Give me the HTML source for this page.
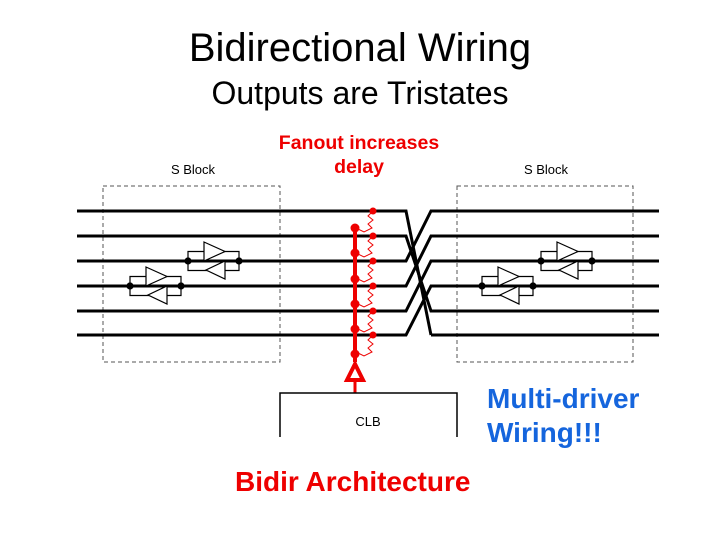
<!DOCTYPE html>
<html><head><style>
body{margin:0;width:720px;height:540px;background:#fff;position:relative;overflow:hidden;font-family:"Liberation Sans",sans-serif}
.t{position:absolute;white-space:nowrap}
</style></head><body>
<div class="t" style="left:0;width:720px;text-align:center;top:26px;font-size:40px">Bidirectional Wiring</div>
<div class="t" style="left:0;width:720px;text-align:center;top:75px;font-size:32px">Outputs are Tristates</div>
<div class="t" style="left:259px;width:200px;text-align:center;top:131px;font-size:19.5px;font-weight:bold;color:#e00;line-height:24px">Fanout increases<br>delay</div>
<div class="t" style="left:487px;top:382px;font-size:28px;font-weight:bold;color:#1565dd;line-height:34px">Multi-driver<br>Wiring!!!</div>
<div class="t" style="left:235px;top:466px;font-size:28px;font-weight:bold;color:#e00">Bidir Architecture</div>
<svg width="720" height="540" style="position:absolute;left:0;top:0">
<defs>
<g id="bp" stroke="#000" stroke-width="1.2" fill="#fff">
<path d="M0 0V-9.5H51V0M0 0V9.5H51V0" fill="none"/>
<path d="M16 -19V0L37 -9.5Z"/>
<path d="M37 0V18L18 9Z"/>
<circle cx="0" cy="0" r="3" fill="#000"/><circle cx="51" cy="0" r="3" fill="#000"/>
</g>
</defs>
<g font-family="Liberation Sans" font-size="13" fill="#000">
<text x="193" y="174" text-anchor="middle">S Block</text>
<text x="546" y="174" text-anchor="middle">S Block</text>
<text x="368" y="426" text-anchor="middle">CLB</text>
</g>
<g fill="none" stroke="#555" stroke-dasharray="4,3" stroke-width="1">
<rect x="103" y="186" width="177" height="176"/>
<rect x="457" y="186" width="176" height="176"/>
</g>
<g stroke="#000" stroke-width="3" fill="none">
<path d="M77 211H406L431 335"/>
<path d="M77 236H406L431 311H659"/>
<path d="M77 261H406L431 211H659"/>
<path d="M77 286H406L431 236H659"/>
<path d="M77 311H406L431 261H659"/>
<path d="M77 335H406L431 286H659"/>
<path d="M431 335H659"/>
</g>
<use href="#bp" transform="translate(188,261)"/>
<use href="#bp" transform="translate(130,286)"/>
<use href="#bp" transform="translate(541,261)"/>
<use href="#bp" transform="translate(482,286)"/>
<g stroke="#e00" fill="#e00">
<line x1="355" y1="228" x2="355" y2="362" stroke-width="4"/>
<path d="M355 364L347 380H363Z" fill="#fff" stroke-width="4"/>
<line x1="355" y1="382" x2="355" y2="393" stroke-width="3"/>
<g stroke-width="1" fill="none">
<path d="M373 211l-5 5 5 4-5 4 4 4-8 4-8-4"/>
<path d="M373 236l-5 5 5 4-5 4 4 4-8 4-8-4"/>
<path d="M373 261l-5 5 5 4-5 4 4 4-8 4-8-4"/>
<path d="M373 286l-5 5 5 4-5 4 4 4-8 4-8-4"/>
<path d="M373 311l-5 5 5 4-5 4 4 4-8 4-8-4"/>
<path d="M373 335l-5 5 5 4-5 4 4 4-8 4-8-4"/>
</g>
<circle cx="355" cy="228" r="4"/><circle cx="355" cy="253" r="4"/><circle cx="355" cy="279" r="4"/>
<circle cx="355" cy="304" r="4"/><circle cx="355" cy="329" r="4"/><circle cx="355" cy="354" r="4"/>
<circle cx="373" cy="211" r="3"/><circle cx="373" cy="236" r="3"/><circle cx="373" cy="261" r="3"/>
<circle cx="373" cy="286" r="3"/><circle cx="373" cy="311" r="3"/><circle cx="373" cy="335" r="3"/>
</g>
<path d="M280 437V393H457V437" fill="none" stroke="#000" stroke-width="1.5"/>
</svg>
</body></html>
